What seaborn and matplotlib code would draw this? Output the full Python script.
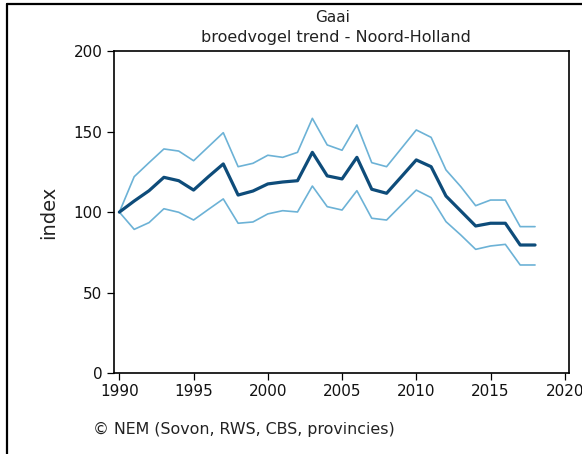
import numpy as np
import pandas as pd
import matplotlib
matplotlib.use("Agg")
import matplotlib.pyplot as plt
import seaborn as sns

sns.set_style("ticks")
plt.rcParams['font.family'] = ['DejaVu Sans']

years = list(range(1990, 2019))
index_mean = [100, 106.9, 113.3, 121.6, 119.5, 113.7, 122, 129.9, 110.6, 113.1,
              117.5, 118.7, 119.5, 137.1, 122.5, 120.6, 134, 114.2, 111.7, 122,
              132.4, 128.2, 110, 100.7, 91.4, 93.1, 93.1, 79.6, 79.6]
index_upper = [100, 122, 130.7, 139.2, 137.9, 131.9, 140.6, 149.3, 128.2, 130.3,
               135.3, 134, 137.1, 158.2, 141.7, 138.4, 154.1, 130.7, 128.2, 139.6,
               151, 146.4, 126.2, 115.8, 104, 107.5, 107.5, 91, 91]
index_lower = [100, 89.3, 93.5, 102.1, 99.9, 95.1, 101.7, 108.2, 93.1, 93.9,
               98.9, 100.9, 100.1, 116.2, 103.4, 101.3, 113.3, 96.2, 95.1, 104.4,
               113.7, 109, 94.1, 85.8, 76.9, 79, 80, 67.2, 67.2]

credit = "\u00a9 NEM (Sovon, RWS, CBS, provincies)"

dark = "#0e4c7a"
light = "#6cb2d6"

fig = plt.figure(figsize=(5.82, 4.54), dpi=100)
ax = fig.add_axes([0.1964, 0.1778, 0.7821, 0.7099])

sns.lineplot(x=years, y=index_upper, ax=ax, color=light, linewidth=1.2)
sns.lineplot(x=years, y=index_lower, ax=ax, color=light, linewidth=1.2)
sns.lineplot(x=years, y=index_mean, ax=ax, color=dark, linewidth=2.3)

ax.set_xlim(1989.66, 2020.32)
ax.set_ylim(0, 200)
ax.set_xticks(range(1990, 2021, 5))
ax.set_yticks(range(0, 201, 50))
ax.tick_params(axis='both', labelsize=11, length=5, width=0.9, color='black',
               labelcolor='#111111')
ax.tick_params(axis='y', pad=3.5)
ax.tick_params(axis='x', pad=3)
for s in ax.spines.values():
    s.set_linewidth(1.2)
    s.set_color('black')
ax.set_ylabel("index", fontsize=14, color='#222222', labelpad=11)
ax.set_xlabel("")

fig.text(0.571, 0.962, "Gaai", ha='center', va='center', fontsize=11, color='#222222')
fig.text(0.577, 0.918, "broedvogel trend - Noord-Holland", ha='center', va='center',
         fontsize=11.5, color='#222222')
fig.text(0.16, 0.053, credit, ha='left', va='center', fontsize=11.4, color='#222222')

# outer frame (left and top edges)
fig.add_artist(plt.Line2D([0.012, 0.012], [0, 0.991], color='black', linewidth=1.6,
                          transform=fig.transFigure))
fig.add_artist(plt.Line2D([0.012, 1.0], [0.991, 0.991], color='black', linewidth=1.6,
                          transform=fig.transFigure))

fig.savefig("out.png", dpi=100)
